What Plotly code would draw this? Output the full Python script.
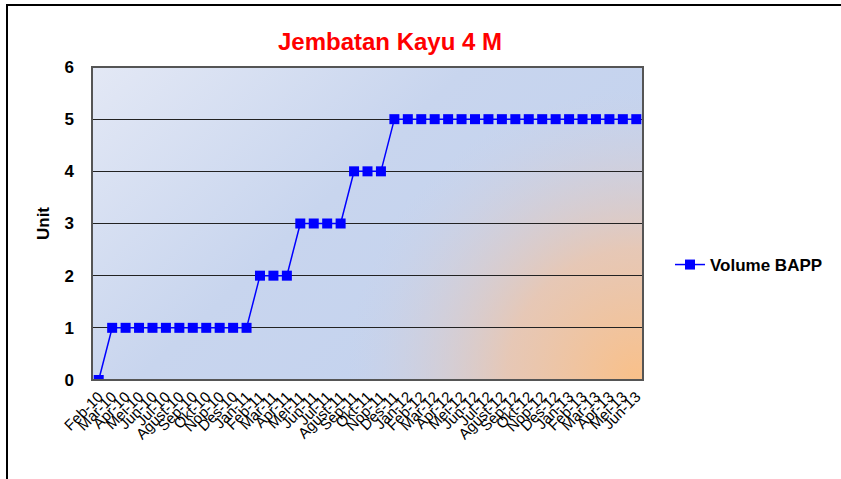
import plotly.graph_objects as go
import base64

categories = ["Feb-10", "Mar-10", "Apr-10", "Mei-10", "Jun-10", "Jul-10", "Agust-10", "Sep-10", "Okt-10", "Nop-10", "Des-10",
              "Jan-11", "Feb-11", "Mar-11", "Apr-11", "Mei-11", "Jun-11", "Jul-11", "Agust-11", "Sep-11", "Okt-11", "Nop-11", "Des-11",
              "Jan-12", "Feb-12", "Mar-12", "Apr-12", "Mei-12", "Jun-12", "Jul-12", "Agust-12", "Sep-12", "Okt-12", "Nop-12", "Des-12",
              "Jan-13", "Feb-13", "Mar-13", "Apr-13", "Mei-13", "Jun-13"]
volume_bapp = [0, 1, 1, 1, 1, 1, 1, 1, 1, 1, 1,
               1, 2, 2, 2, 3, 3, 3, 3, 4, 4, 4, 5,
               5, 5, 5, 5, 5, 5, 5, 5, 5, 5, 5, 5,
               5, 5, 5, 5, 5, 5]
y_ticks = [0, 1, 2, 3, 4, 5, 6]

svg = """<svg xmlns='http://www.w3.org/2000/svg' width='551' height='313' viewBox='0 0 551 313' preserveAspectRatio='none'>
<defs>
<linearGradient id='a' x1='0' y1='0' x2='1' y2='0.6'>
<stop offset='0' stop-color='#e3e8f5'/>
<stop offset='0.5' stop-color='#c8d5ee'/>
<stop offset='1' stop-color='#c3d2ee'/>
</linearGradient>
<radialGradient id='b' cx='545' cy='313' r='290' gradientUnits='userSpaceOnUse'>
<stop offset='0' stop-color='#f9c089' stop-opacity='1'/>
<stop offset='0.45' stop-color='#efc5a8' stop-opacity='0.8'/>
<stop offset='1' stop-color='#d0cfe0' stop-opacity='0'/>
</radialGradient>
</defs>
<rect width='551' height='313' fill='url(#a)'/>
<rect width='551' height='313' fill='url(#b)'/>
</svg>"""
bg_uri = "data:image/svg+xml;base64," + base64.b64encode(svg.encode()).decode()

fig = go.Figure()
fig.add_trace(go.Scatter(
    x=categories, y=volume_bapp, mode="lines+markers", name="Volume BAPP",
    line=dict(color="#0000ff", width=1.5),
    marker=dict(symbol="square", size=10, color="#0000ff"),
))

W, H = 841, 479
L, R, T, B = 92, 198, 67, 99
pw, ph = W - L - R, H - T - B

def px(x):
    return (x - L) / pw

def py(y):
    return (H - B - y) / ph

fig.update_layout(
    width=W, height=H,
    margin=dict(l=L, r=R, t=T, b=B),
    paper_bgcolor="white", plot_bgcolor="rgba(0,0,0,0)",
    font=dict(family="Arial, Liberation Sans", color="black"),
    title=dict(text="<b>Jembatan Kayu 4 M</b>", font=dict(size=24, color="#ff0000"),
               x=390 / W, xanchor="center", y=1 - 42 / H, yanchor="middle"),
    showlegend=True,
    legend=dict(x=px(670), y=py(265), xanchor="left", yanchor="middle",
                font=dict(size=17, weight="bold"), bgcolor="rgba(0,0,0,0)",
                itemwidth=30),
    xaxis=dict(type="category", tickangle=-45, tickfont=dict(size=15),
               tickmode="linear", dtick=1, tick0=0, ticklabelstandoff=4,
               showgrid=False, showline=False, ticks="", range=[-0.5, len(categories) - 0.5],
               zeroline=False, automargin=False),
    yaxis=dict(range=[0, 6], tickvals=y_ticks, tickfont=dict(size=17, weight="bold"),
               showgrid=True, gridcolor="#222222", gridwidth=1,
               title=dict(text="<b>Unit</b>", font=dict(size=17), standoff=10),
               zeroline=False, showline=False, ticks="", automargin=False,
               ticklabelstandoff=17),
    images=[dict(source=bg_uri, xref="paper", yref="paper", x=0, y=1, sizex=1, sizey=1,
                 sizing="stretch", layer="below")],
    shapes=[
        dict(type="rect", xref="paper", yref="paper", x0=0, y0=0, x1=1, y1=1,
             line=dict(color="#555555", width=2), fillcolor="rgba(0,0,0,0)", layer="above"),
        dict(type="line", xref="paper", yref="paper", x0=px(6), x1=px(841), y0=py(5), y1=py(5),
             line=dict(color="black", width=2)),
        dict(type="line", xref="paper", yref="paper", x0=px(7), x1=px(7), y0=py(5), y1=py(479),
             line=dict(color="black", width=2)),
    ],
)

fig.write_html("out.html", config={"displayModeBar": False},
               post_script="document.body.style.margin='0';")
